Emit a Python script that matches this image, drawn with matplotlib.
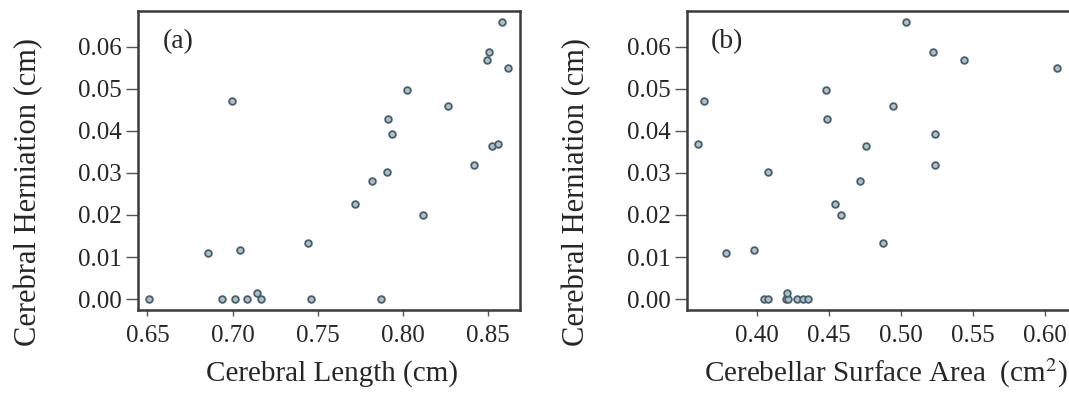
import matplotlib
matplotlib.use("Agg")
import matplotlib.pyplot as plt

# cerebral herniation (cm), shared by both panels
herniation = [0.0, 0.0, 0.0, 0.0, 0.0014, 0.0, 0.0, 0.0,
              0.0109, 0.0116, 0.0471, 0.0134, 0.0227, 0.0281, 0.0303,
              0.0427, 0.0392, 0.0498, 0.0201, 0.0460, 0.0318, 0.0569,
              0.0588, 0.0659, 0.0550, 0.0365, 0.0369]

# cerebral length (cm)
cerebral_length = [0.651, 0.6936, 0.7014, 0.7087, 0.7143, 0.7167, 0.7458, 0.7872,
                   0.6854, 0.7043, 0.6999, 0.7440, 0.7718, 0.7818, 0.7904,
                   0.7910, 0.7937, 0.8023, 0.8117, 0.8265, 0.8414, 0.8492,
                   0.8504, 0.8580, 0.8613, 0.8521, 0.8555]

# cerebellar surface area (cm^2)
surface_area = [0.4051, 0.4080, 0.4205, 0.4215, 0.4210, 0.4282, 0.4319, 0.4358,
                0.3790, 0.3984, 0.3635, 0.4874, 0.4541, 0.4717, 0.4079,
                0.4490, 0.5237, 0.4479, 0.4585, 0.4948, 0.5239, 0.5440,
                0.5221, 0.5036, 0.6081, 0.4758, 0.3595]

y_ticks = [0.00, 0.01, 0.02, 0.03, 0.04, 0.05, 0.06]
a_ticks = [0.65, 0.70, 0.75, 0.80, 0.85]
b_ticks = [0.40, 0.45, 0.50, 0.55, 0.60]

plt.rcParams['font.family'] = ['Liberation Serif', 'DejaVu Serif']
plt.rcParams['mathtext.fontset'] = 'stix'

text_color = '#262626'
frame_color = '#3a3a3a'

fig = plt.figure(figsize=(10.69, 3.94), dpi=100)
ax_a = fig.add_axes([0.1291, 0.2132, 0.3573, 0.7589])
ax_b = fig.add_axes([0.6429, 0.2132, 0.3599, 0.7589])

panels = [
    (ax_a, cerebral_length, a_ticks, (0.6445, 0.8686), 'Cerebral Length (cm)', '(a)', 0.509),
    (ax_b, surface_area, b_ticks, (0.3519, 0.6187), r'Cerebellar Surface Area  (cm$^{2}$)', '(b)', 0.5165),
]

for ax, xs, xticks, xlim, xlabel, letter, xlab_x in panels:
    ax.plot(xs, herniation, linestyle='none', marker='o', ms=4.8,
            mfc='#a9c3d0', mec='#4d5d68', mew=1.3)
    ax.set_xlim(*xlim)
    ax.set_ylim(-0.0026, 0.0685)
    ax.set_xticks(xticks)
    ax.set_xticklabels([f'{t:.2f}' for t in xticks])
    ax.set_yticks(y_ticks)
    ax.set_yticklabels([f'{t:.2f}' for t in y_ticks])
    for s in ax.spines.values():
        s.set_color(frame_color)
        s.set_linewidth(1.8)
    ax.tick_params(axis='y', length=9, width=1.0, color='#555555',
                   labelsize=18, labelcolor=text_color, pad=3)
    ax.tick_params(axis='x', length=4.5, width=1.0, color='#555555',
                   labelsize=18, labelcolor=text_color, pad=6)
    ax.set_xlabel(xlabel, fontsize=21, color=text_color)
    ax.xaxis.set_label_coords(xlab_x, -0.212)
    ax.xaxis.label.set_va('center')
    ax.set_ylabel('Cerebral Herniation (cm)', fontsize=22, color=text_color)
    ax.yaxis.set_label_coords(-0.287, 0.395)
    ax.yaxis.label.set_va('center')
    ax.text(0.104, 0.896, letter, transform=ax.transAxes, fontsize=20,
            color=text_color, ha='center', va='center')

fig.savefig('out.png', dpi=100)
